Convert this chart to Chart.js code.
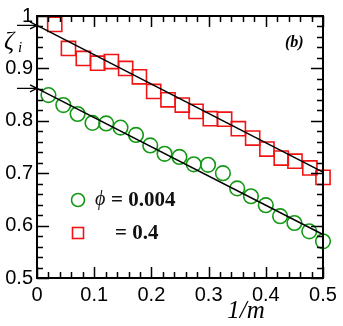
<!DOCTYPE html>
<html>
<head>
<meta charset="utf-8">
<script src="https://cdn.jsdelivr.net/npm/chart.js@4.4.0/dist/chart.umd.min.js"></script>
<style>
  html, body { margin: 0; padding: 0; background: #fff; }
  #wrap { width: 343px; height: 326px; }
</style>
</head>
<body>
<div id="wrap"><canvas id="chart" width="343" height="326"></canvas></div>
<script>
// phi = 0.4 (red squares)
const xSquares = [0.031, 0.055, 0.081, 0.106, 0.130, 0.155, 0.179, 0.204, 0.229, 0.254,
                  0.278, 0.303, 0.328, 0.352, 0.377, 0.402, 0.427, 0.451, 0.477, 0.500];
const ySquares = [0.984, 0.938, 0.919, 0.910, 0.913, 0.900, 0.884, 0.856, 0.840, 0.830,
                  0.818, 0.804, 0.803, 0.785, 0.767, 0.746, 0.729, 0.723, 0.710, 0.692];
// phi = 0.004 (green circles)
const xCircles = [0.020, 0.046, 0.071, 0.097, 0.121, 0.146, 0.173, 0.198, 0.223, 0.249,
                  0.274, 0.299, 0.325, 0.350, 0.374, 0.400, 0.425, 0.450, 0.476, 0.500];
const yCircles = [0.849, 0.830, 0.813, 0.796, 0.795, 0.787, 0.773, 0.753, 0.737, 0.731,
                  0.717, 0.716, 0.700, 0.671, 0.656, 0.639, 0.618, 0.605, 0.589, 0.570];
// straight-line fits (end points)
const fitX = [0, 0.5];
const fitSquares = [0.982, 0.702];
const fitCircles = [0.862, 0.583];

const xTicks = [0, 0.1, 0.2, 0.3, 0.4, 0.5];
const yTicks = [0.5, 0.6, 0.7, 0.8, 0.9, 1];

const GREEN = '#139913';
const RED = '#f01414';
const pts = (xs, ys) => xs.map((x, i) => ({ x: x, y: ys[i] }));

function arrow(ctx, x0, x1, y) {
    ctx.beginPath();
    ctx.moveTo(x0, y);
    ctx.lineTo(x1, y);
    ctx.moveTo(x1 - 7, y - 3.5);
    ctx.lineTo(x1, y);
    ctx.lineTo(x1 - 7, y + 3.5);
    ctx.stroke();
}

const framePlugin = {
    id: 'frame',
    afterDatasetsDraw(chart) {
        const { ctx, chartArea: a, scales: { x, y } } = chart;
        ctx.save();
        ctx.strokeStyle = '#000';
        ctx.lineWidth = 2;
        ctx.strokeRect(a.left, a.top, a.right - a.left, a.bottom - a.top);

        // inside ticks on all four sides
        ctx.lineWidth = 1.5;
        ctx.beginPath();
        for (let i = 0; i <= 25; i++) {
            const v = i * 0.02;
            const px = Math.round(x.getPixelForValue(v)) + 0.5;
            const len = i % 5 === 0 ? 11 : 6;
            ctx.moveTo(px, a.bottom); ctx.lineTo(px, a.bottom - len);
            ctx.moveTo(px, a.top); ctx.lineTo(px, a.top + len);
        }
        for (let i = 0; i <= 25; i++) {
            const v = 0.5 + i * 0.02;
            const py = Math.round(y.getPixelForValue(v)) + 0.5;
            const len = i % 5 === 0 ? 12 : 6;
            ctx.moveTo(a.left, py); ctx.lineTo(a.left + len, py);
            ctx.moveTo(a.right, py); ctx.lineTo(a.right - len, py);
        }
        ctx.stroke();

        // arrows marking the intercepts
        ctx.lineWidth = 1.3;
        arrow(ctx, 17, a.left, y.getPixelForValue(fitSquares[0]));
        arrow(ctx, 17, a.left, y.getPixelForValue(fitCircles[0]));

        // labels
        ctx.fillStyle = '#000';
        ctx.textBaseline = 'middle';
        ctx.textAlign = 'left';
        ctx.font = 'italic 25px "Liberation Serif"';
        ctx.fillText('ζ', 4, 42);
        ctx.font = 'italic 15px "Liberation Serif"';
        ctx.fillText('i', 18, 48);
        ctx.font = 'italic bold 16px "Liberation Serif"';
        ctx.fillText('(b)', 285, 43);
        ctx.font = 'italic 25px "Liberation Serif"';
        ctx.textAlign = 'center';
        ctx.fillText('1/m', 246, 311);

        // legend
        ctx.lineWidth = 1.6;
        ctx.strokeStyle = GREEN;
        ctx.beginPath();
        ctx.arc(78, 200, 6.5, 0, Math.PI * 2);
        ctx.stroke();
        ctx.strokeStyle = RED;
        ctx.strokeRect(72.5, 227.5, 11, 11);
        ctx.textAlign = 'left';
        ctx.fillStyle = '#111';
        ctx.font = 'italic 20px "Liberation Serif"';
        ctx.fillText('ϕ', 95, 200);
        ctx.font = 'bold 21px "Liberation Serif"';
        ctx.fillText('= 0.004', 111, 201);
        ctx.fillText('= 0.4', 115, 234);
        ctx.restore();
    }
};

new Chart(document.getElementById('chart'), {
    type: 'scatter',
    data: {
        datasets: [
            {
                data: pts(fitX, fitSquares),
                type: 'line',
                borderColor: '#000',
                borderWidth: 1.5,
                pointRadius: 0
            },
            {
                data: pts(fitX, fitCircles),
                type: 'line',
                borderColor: '#000',
                borderWidth: 1.5,
                pointRadius: 0
            },
            {
                data: pts(xSquares, ySquares),
                pointStyle: 'rect',
                pointRadius: 10,
                borderColor: RED,
                backgroundColor: 'rgba(0,0,0,0)',
                borderWidth: 1.6
            },
            {
                data: pts(xCircles, yCircles),
                pointStyle: 'circle',
                pointRadius: 7.3,
                borderColor: GREEN,
                backgroundColor: 'rgba(0,0,0,0)',
                borderWidth: 1.6
            }
        ]
    },
    options: {
        responsive: false,
        animation: false,
        clip: false,
        layout: { padding: { top: 15, right: 20, left: 0, bottom: 0 } },
        plugins: {
            legend: { display: false },
            tooltip: { enabled: false }
        },
        scales: {
            x: {
                type: 'linear',
                min: 0,
                max: 0.5,
                afterFit: s => { s.height = 48; },
                afterBuildTicks: s => { s.ticks = xTicks.map(v => ({ value: v })); },
                grid: { display: false, drawTicks: false },
                border: { display: false },
                ticks: {
                    padding: 5,
                    color: '#000',
                    font: { family: '"Liberation Sans", Arial, sans-serif', size: 20 },
                    callback: v => v === 0 ? '0' : v.toFixed(1)
                }
            },
            y: {
                type: 'linear',
                min: 0.5,
                max: 1,
                afterFit: s => { s.width = 37; },
                afterBuildTicks: s => { s.ticks = yTicks.map(v => ({ value: v })); },
                grid: { display: false, drawTicks: false },
                border: { display: false },
                ticks: {
                    padding: 4,
                    color: '#000',
                    font: { family: '"Liberation Sans", Arial, sans-serif', size: 20 },
                    callback: v => v === 1 ? '1' : v.toFixed(1)
                }
            }
        }
    },
    plugins: [framePlugin]
});
</script>
</body>
</html>
